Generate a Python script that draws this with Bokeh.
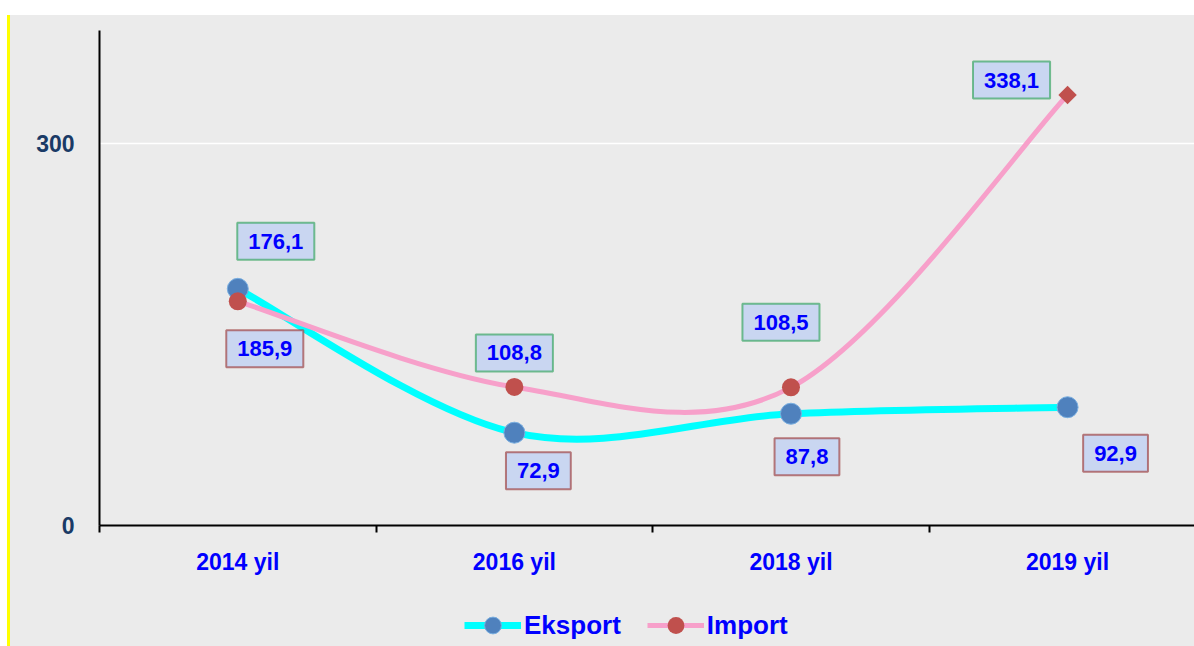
from bokeh.plotting import figure
from bokeh.models import FixedTicker, Legend, LegendItem, ColumnDataSource, Spacer
from bokeh.layouts import column, row
from bokeh.embed import file_html
from bokeh.resources import INLINE
from bokeh.core.properties import value

# ---------------- data ----------------
categories = ["2014 yil", "2016 yil", "2018 yil", "2019 yil"]
eksport = [185.9, 72.9, 87.8, 92.9]
import_vals = [176.1, 108.8, 108.5, 338.1]
eksport_labels = ["185,9", "72,9", "87,8", "92,9"]
import_labels = ["176,1", "108,8", "108,5", "338,1"]
series_names = ["Eksport", "Import"]
y_ticks = [0, 300]

# ---------------- styling / label placement (screen px) ----------------
eks_dx = [27, 24, 16, 48]
eks_dy = [60, 38, 43, 46]
imp_dx = [38, 0, -10, -56]
imp_dy = [-60, -34, -65, -15]
FONT = "Liberation Sans"
BG = "#ebebeb"

xs = list(range(len(categories)))


def smooth_segments(x, y):
    """Cubic Bezier control points (Catmull-Rom style, like spreadsheet smoothing)."""
    n = len(x)
    px = [x[0]] + list(x) + [x[-1]]
    py = [y[0]] + list(y) + [y[-1]]
    seg = dict(x0=[], y0=[], x1=[], y1=[], cx0=[], cy0=[], cx1=[], cy1=[])
    for i in range(n - 1):
        ax, ay = px[i], py[i]
        bx, by = px[i + 1], py[i + 1]
        cx, cy = px[i + 2], py[i + 2]
        dx, dy = px[i + 3], py[i + 3]
        seg["x0"].append(bx); seg["y0"].append(by)
        seg["x1"].append(cx); seg["y1"].append(cy)
        seg["cx0"].append(bx + (cx - ax) / 6.0); seg["cy0"].append(by + (cy - ay) / 6.0)
        seg["cx1"].append(cx - (dx - bx) / 6.0); seg["cy1"].append(cy - (dy - by) / 6.0)
    return ColumnDataSource(seg)


p = figure(width=1184, height=585, x_range=(-0.5, 3.459), y_range=(0, 388.8),
           output_backend="svg", toolbar_location=None,
           min_border_left=89, min_border_right=0, min_border_top=15, min_border_bottom=75)
p.background_fill_color = BG
p.border_fill_color = BG
p.outline_line_color = None

# axes
p.xaxis.ticker = FixedTicker(ticks=xs, minor_ticks=[i - 0.5 for i in xs])
p.xaxis.major_label_overrides = {i: c for i, c in enumerate(categories)}
p.xaxis.major_tick_line_color = None
p.xaxis.major_tick_out = 0
p.xaxis.major_tick_in = 0
p.xaxis.minor_tick_line_color = "black"
p.xaxis.minor_tick_line_width = 2
p.xaxis.minor_tick_out = 7
p.xaxis.minor_tick_in = 0
p.xaxis.axis_line_width = 2
p.xaxis.axis_line_color = "black"
p.xaxis.major_label_standoff = 16
p.xaxis.major_label_text_font = FONT
p.xaxis.major_label_text_font_style = "bold"
p.xaxis.major_label_text_font_size = "23px"
p.xaxis.major_label_text_color = "#0000ff"

p.yaxis.ticker = FixedTicker(ticks=y_ticks)
p.yaxis.major_tick_line_color = None
p.yaxis.minor_tick_line_color = None
p.yaxis.major_tick_out = 0
p.yaxis.major_tick_in = 0
p.yaxis.axis_line_width = 2
p.yaxis.axis_line_color = "black"
p.yaxis.major_label_standoff = 25
p.yaxis.major_label_text_font = FONT
p.yaxis.major_label_text_font_style = "bold"
p.yaxis.major_label_text_font_size = "23px"
p.yaxis.major_label_text_color = "#1a3a66"

p.xgrid.grid_line_color = None
p.ygrid.ticker = FixedTicker(ticks=[t for t in y_ticks if t > 0])
p.ygrid.grid_line_color = "white"
p.ygrid.grid_line_width = 1.5

EKS_LINE = "#00ffff"
EKS_MARK = "#4f81bd"
IMP_LINE = "#f7a0ca"
IMP_MARK = "#c0504d"

# Eksport
p.bezier(x0="x0", y0="y0", x1="x1", y1="y1", cx0="cx0", cy0="cy0", cx1="cx1", cy1="cy1",
         source=smooth_segments(xs, eksport), line_color=EKS_LINE, line_width=7)
p.scatter(xs, eksport, size=21, marker="circle", fill_color=EKS_MARK,
          line_color="#79aee0", line_width=1)

# Import
p.bezier(x0="x0", y0="y0", x1="x1", y1="y1", cx0="cx0", cy0="cy0", cx1="cx1", cy1="cy1",
         source=smooth_segments(xs, import_vals), line_color=IMP_LINE, line_width=5)
imp_src = ColumnDataSource(dict(x=xs, y=import_vals,
                                m=["circle", "circle", "circle", "square"],
                                s=[18, 18, 18, 13],
                                a=[0, 0, 0, 0.785398]))
p.scatter("x", "y", size="s", marker="m", angle="a", source=imp_src,
          fill_color=IMP_MARK, line_color=None)

# data labels
eks_src = ColumnDataSource(dict(x=xs, y=eksport, t=eksport_labels, dx=eks_dx, dy=eks_dy))
imp_lab_src = ColumnDataSource(dict(x=xs, y=import_vals, t=import_labels, dx=imp_dx, dy=imp_dy))
common = dict(text_font=value(FONT), text_font_style="bold", text_font_size="22px",
              text_color="#0000ff", text_align="center", text_baseline="middle",
              background_fill_color="#c9d6f1", border_line_width=2, border_line_alpha=0.65,
              padding=dict(left=11, right=11, top=11, bottom=11))
p.text(x="x", y="y", text="t", x_offset="dx", y_offset="dy", source=eks_src,
       border_line_color="#9b3b3b", **common)
p.text(x="x", y="y", text="t", x_offset="dx", y_offset="dy", source=imp_lab_src,
       border_line_color="#2fa35a", **common)

# legend strip (separate small figure under the chart; swatch renderers hold no visible point)
lg = figure(width=1184, height=46, x_range=(0, 1), y_range=(0, 1),
            output_backend="svg", toolbar_location=None,
            x_axis_location=None, y_axis_location=None,
            min_border_left=0, min_border_right=0, min_border_top=0, min_border_bottom=0)
lg.background_fill_color = BG
lg.border_fill_color = BG
lg.outline_line_color = None
lg.grid.visible = False
nan = float("nan")
le_line = lg.line(x=[nan], y=[nan], line_color=EKS_LINE, line_width=7)
le_mark = lg.scatter(x=[nan], y=[nan], marker="circle", fill_color=EKS_MARK,
                     line_color="#79aee0", size=16)
li_line = lg.line(x=[nan], y=[nan], line_color=IMP_LINE, line_width=5)
li_mark = lg.scatter(x=[nan], y=[nan], marker="circle", fill_color=IMP_MARK,
                     line_color=None, size=18)
legend = Legend(items=[LegendItem(label=series_names[0], renderers=[le_line, le_mark]),
                       LegendItem(label=series_names[1], renderers=[li_line, li_mark])],
                orientation="horizontal", location=(365, 0),
                background_fill_alpha=0, border_line_color=None,
                padding=0, margin=0, spacing=26, glyph_width=57, glyph_height=42,
                label_standoff=3, label_text_font=FONT, label_text_font_style="bold",
                label_text_font_size="26px", label_text_color="#0000ff")
lg.add_layout(legend, "center")

white_left = Spacer(width=7, height=631)
yellow = Spacer(width=3, height=631, styles={"background-color": "#ffff00"})
charts = column(p, lg, styles={"background-color": BG})
layout = column(Spacer(width=1194, height=15), row(white_left, yellow, charts))

open("out.html", "w").write(file_html(layout, INLINE))
